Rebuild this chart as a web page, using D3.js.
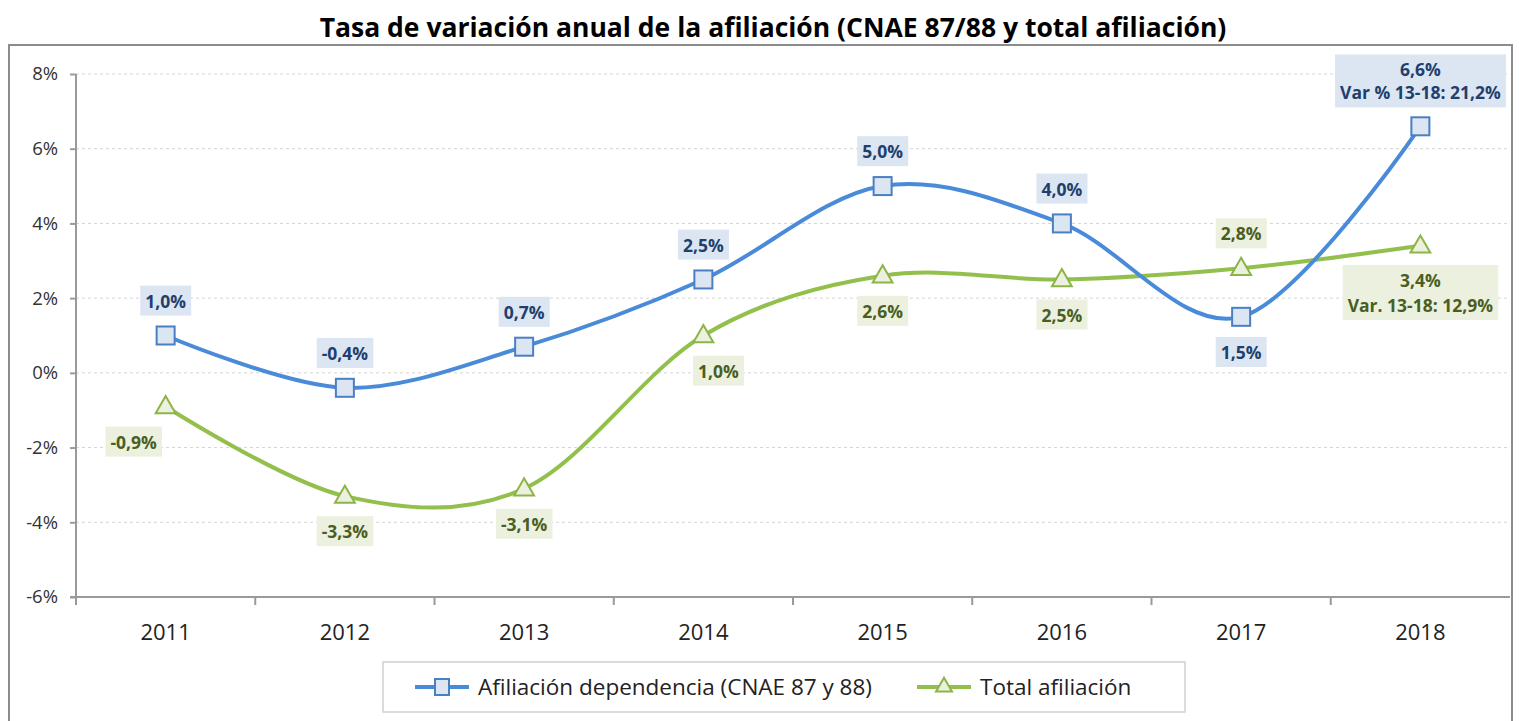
<!DOCTYPE html>
<html>
<head>
<meta charset="utf-8">
<script src="https://cdn.jsdelivr.net/npm/d3@7"></script>
<style>
	body { margin: 0; background: #fff; }
	text { font-family: "Open Sans", sans-serif; }
</style>
</head>
<body>
<div id="chart"></div>
<script>
const years = ['2011', '2012', '2013', '2014', '2015', '2016', '2017', '2018'];
const dependencia = [1.0, -0.4, 0.7, 2.5, 5.0, 4.0, 1.5, 6.6];
const total = [-0.9, -3.3, -3.1, 1.0, 2.6, 2.5, 2.8, 3.4];
const yTicks = [-6, -4, -2, 0, 2, 4, 6, 8];
const seriesNames = ['Afiliación dependencia (CNAE 87 y 88)', 'Total afiliación'];
const blueNote = 'Var % 13-18: 21,2%';
const greenNote = 'Var. 13-18: 12,9%';
// where each data label sits relative to its point
const bluePlace = ['above', 'above', 'above', 'above', 'above', 'above', 'below', 'above2'];
const greenPlace = ['belowLeft', 'below', 'below', 'belowRight', 'below', 'below', 'above', 'below2'];

const width = 1519, height = 721;
const margin = { top: 74, right: 9, bottom: 124, left: 76 };

const svg = d3.select('#chart')
	.append('svg')
	.attr('width', width)
	.attr('height', height);

// outer frame
svg.append('rect')
	.attr('x', 9).attr('y', 45)
	.attr('width', 1503).attr('height', 700)
	.attr('fill', 'none')
	.attr('stroke', '#8c8c8c')
	.attr('stroke-width', 2);

svg.append('text')
	.attr('x', 773).attr('y', 37)
	.attr('text-anchor', 'middle')
	.attr('font-size', 26.5)
	.attr('font-weight', 'bold')
	.attr('fill', '#000')
	.text('Tasa de variación anual de la afiliación (CNAE 87/88 y total afiliación)');

const xScale = d3.scaleBand()
	.domain(years)
	.range([margin.left, width - margin.right])
	.padding(0);

const yScale = d3.scaleLinear()
	.domain([-6, 8])
	.range([height - margin.bottom, margin.top]);

const cx = d => xScale(d) + xScale.bandwidth() / 2;

// gridlines
svg.append('g')
	.selectAll('line')
	.data(yTicks.filter(t => t !== -6))
	.join('line')
	.attr('x1', margin.left).attr('x2', width - margin.right)
	.attr('y1', d => yScale(d)).attr('y2', d => yScale(d))
	.attr('stroke', '#d4d4d4')
	.attr('stroke-dasharray', '3,3')
	.attr('stroke-width', 1);

// y axis
const yAxis = d3.axisLeft(yScale)
	.tickValues(yTicks)
	.tickFormat(d => d + '%')
	.tickSize(6)
	.tickPadding(12);

const yAxisG = svg.append('g')
	.attr('transform', `translate(${margin.left}, 0)`)
	.call(yAxis);
yAxisG.select('.domain').attr('d', `M0,${margin.top}V${yScale(-6) + 8}`);
yAxisG.selectAll('path, line').attr('stroke', '#9a9a9a').attr('stroke-width', 2);
yAxisG.selectAll('text').attr('font-size', 18.5).attr('fill', '#333').attr('font-family', '"Open Sans", sans-serif');

// x axis with ticks on the category boundaries
const xAxisG = svg.append('g')
	.attr('transform', `translate(0, ${yScale(-6)})`);
xAxisG.append('line')
	.attr('x1', margin.left - 6).attr('x2', width - margin.right)
	.attr('stroke', '#9a9a9a').attr('stroke-width', 2);
xAxisG.selectAll('.tick')
	.data(years.slice(1))
	.join('line')
	.attr('x1', d => xScale(d)).attr('x2', d => xScale(d))
	.attr('y1', 0).attr('y2', 8)
	.attr('stroke', '#9a9a9a').attr('stroke-width', 2);
xAxisG.selectAll('.lbl')
	.data(years)
	.join('text')
	.attr('x', d => cx(d))
	.attr('y', 43)
	.attr('text-anchor', 'middle')
	.attr('font-size', 22)
	.attr('fill', '#222')
	.text(d => d);

const line = d3.line()
	.x((d, i) => cx(years[i]))
	.y(d => yScale(d))
	.curve(d3.curveCardinal.tension(0));

const blue = { line: '#4a8bd9', stroke: '#4a7fc4', fill: '#dce6f2', text: '#1f3f6e', box: '#dce6f2' };
const green = { line: '#93bf4c', stroke: '#8db446', fill: '#ebf1de', text: '#4a5e22', box: '#ebf1de' };

svg.append('path')
	.attr('d', line(total))
	.attr('fill', 'none')
	.attr('stroke', green.line)
	.attr('stroke-width', 4);

svg.append('path')
	.attr('d', line(dependencia))
	.attr('fill', 'none')
	.attr('stroke', blue.line)
	.attr('stroke-width', 4);

const tri = d3.symbol().type(d3.symbolTriangle).size(170);

svg.append('g')
	.selectAll('path')
	.data(total)
	.join('path')
	.attr('d', tri)
	.attr('transform', (d, i) => `translate(${cx(years[i])}, ${yScale(d) + 1})`)
	.attr('fill', green.fill)
	.attr('stroke', green.stroke)
	.attr('stroke-width', 2);

svg.append('g')
	.selectAll('rect')
	.data(dependencia)
	.join('rect')
	.attr('x', (d, i) => cx(years[i]) - 9)
	.attr('y', d => yScale(d) - 9)
	.attr('width', 18).attr('height', 18)
	.attr('fill', blue.fill)
	.attr('stroke', blue.stroke)
	.attr('stroke-width', 2);

const fmt = v => v.toFixed(1).replace('.', ',') + '%';

const offsets = {
	above: [[0, -34]],
	below: [[0, 36]],
	belowLeft: [[-32, 36]],
	belowRight: [[15, 36]],
	above2: [[0, -56], [0, -33]],
	below2: [[0, 35], [0, 60]]
};

function addLabels(values, places, note, c) {
	values.forEach((v, i) => {
		const px = cx(years[i]);
		const py = yScale(v);
		const offs = offsets[places[i]];
		const lines = offs.length === 2 ? [fmt(v), note] : [fmt(v)];
		const g = svg.append('g');
		const rect = g.append('rect').attr('fill', c.box);
		lines.forEach((t, k) => {
			g.append('text')
				.attr('x', px + offs[k][0])
				.attr('y', py + offs[k][1])
				.attr('dy', '0.35em')
				.attr('text-anchor', 'middle')
				.attr('font-size', 17.5)
				.attr('font-weight', 'bold')
				.attr('fill', c.text)
				.text(t);
		});
		const bb = g.node().getBBox();
		rect.attr('x', bb.x - 5).attr('y', bb.y - 3)
			.attr('width', bb.width + 10).attr('height', bb.height + 6);
	});
}

addLabels(dependencia, bluePlace, blueNote, blue);
addLabels(total, greenPlace, greenNote, green);

// legend
const legend = svg.append('g');
legend.append('rect')
	.attr('x', 383).attr('y', 662)
	.attr('width', 802).attr('height', 50)
	.attr('fill', '#fff')
	.attr('stroke', '#d0d0d0')
	.attr('stroke-width', 1.5);

const legItems = [
	{ x: 415, c: blue, shape: 'square', name: seriesNames[0] },
	{ x: 917, c: green, shape: 'triangle', name: seriesNames[1] }
];
legItems.forEach(it => {
	const ly = 687;
	legend.append('line')
		.attr('x1', it.x).attr('x2', it.x + 54)
		.attr('y1', ly).attr('y2', ly)
		.attr('stroke', it.c.line).attr('stroke-width', 4);
	if (it.shape === 'square') {
		legend.append('rect')
			.attr('x', it.x + 27 - 7).attr('y', ly - 8)
			.attr('width', 14).attr('height', 16)
			.attr('fill', it.c.fill).attr('stroke', it.c.stroke).attr('stroke-width', 2);
	} else {
		legend.append('path')
			.attr('d', d3.symbol().type(d3.symbolTriangle).size(110))
			.attr('transform', `translate(${it.x + 27}, ${ly})`)
			.attr('fill', it.c.fill).attr('stroke', it.c.stroke).attr('stroke-width', 2);
	}
	legend.append('text')
		.attr('x', it.x + 63).attr('y', ly)
		.attr('dy', '0.35em')
		.attr('font-size', 22.5)
		.attr('fill', '#222')
		.text(it.name);
});
</script>
</body>
</html>
